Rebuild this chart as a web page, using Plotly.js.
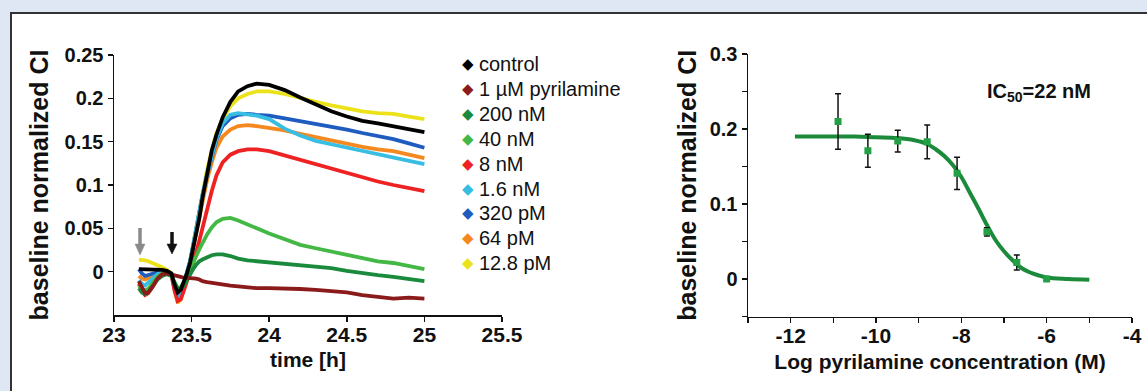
<!DOCTYPE html>
<html>
<head>
<meta charset="utf-8">
<script src="https://cdn.plot.ly/plotly-3.0.1.min.js"></script>
<style>html,body{margin:0;padding:0;background:#e0e7f4;}#chart{width:1147px;height:391px;}</style>
</head>
<body>
<div id="chart"></div>
<script>
// ---------- Left panel: time course ----------
const time = [23.16, 23.18, 23.20, 23.22, 23.25, 23.28, 23.31, 23.34, 23.37, 23.39, 23.41, 23.43, 23.45, 23.47, 23.49, 23.51, 23.53, 23.55, 23.57, 23.60, 23.63, 23.66, 23.70, 23.75, 23.80, 23.86, 23.92, 24.00, 24.10, 24.20, 24.30, 24.40, 24.50, 24.60, 24.70, 24.80, 24.90, 25.00];

const control = [0.003, 0.003, 0.003, 0.003, 0.002, 0.002, 0.002, 0.001, -0.002, -0.015, -0.024, -0.021, -0.012, -0.002, 0.010, 0.026, 0.045, 0.062, 0.085, 0.115, 0.140, 0.158, 0.178, 0.196, 0.208, 0.214, 0.217, 0.2155, 0.2095, 0.201, 0.193, 0.185, 0.179, 0.174, 0.171, 0.168, 0.165, 0.161];
const pyr1uM = [-0.011, -0.019, -0.025, -0.024, -0.017, -0.008, -0.003, -0.002, -0.003, -0.004, -0.005, -0.006, -0.007, -0.007, -0.008, -0.008, -0.008, -0.009, -0.011, -0.012, -0.013, -0.014, -0.015, -0.016, -0.017, -0.018, -0.019, -0.019, -0.019, -0.020, -0.021, -0.022, -0.024, -0.027, -0.029, -0.031, -0.030, -0.031];
const nM200 = [-0.019, -0.024, -0.026, -0.024, -0.016, -0.009, -0.005, -0.003, -0.005, -0.013, -0.019, -0.020, -0.016, -0.010, -0.003, 0.003, 0.008, 0.012, 0.014, 0.017, 0.019, 0.020, 0.020, 0.018, 0.015, 0.013, 0.012, 0.011, 0.009, 0.007, 0.006, 0.004, 0.001, -0.002, -0.004, -0.006, -0.009, -0.011];
const nM40 = [-0.016, -0.020, -0.022, -0.020, -0.013, -0.006, -0.002, -0.001, -0.004, -0.014, -0.020, -0.018, -0.012, -0.005, 0.003, 0.010, 0.018, 0.026, 0.033, 0.043, 0.051, 0.057, 0.061, 0.062, 0.059, 0.055, 0.050, 0.044, 0.037, 0.031, 0.027, 0.023, 0.019, 0.015, 0.012, 0.010, 0.007, 0.003];
const nM8 = [-0.014, -0.022, -0.027, -0.025, -0.017, -0.008, -0.003, -0.001, -0.004, -0.022, -0.034, -0.032, -0.022, -0.010, 0.000, 0.010, 0.022, 0.036, 0.050, 0.072, 0.093, 0.111, 0.126, 0.135, 0.139, 0.141, 0.141, 0.139, 0.134, 0.129, 0.123, 0.118, 0.113, 0.109, 0.104, 0.100, 0.096, 0.093];
const nM1_6 = [-0.010, -0.014, -0.016, -0.013, -0.008, -0.003, 0.000, 0.000, -0.003, -0.020, -0.031, -0.028, -0.016, -0.003, 0.012, 0.030, 0.050, 0.068, 0.088, 0.113, 0.135, 0.154, 0.171, 0.181, 0.183, 0.182, 0.180, 0.176, 0.165, 0.157, 0.151, 0.147, 0.143, 0.139, 0.135, 0.132, 0.128, 0.124];
const pM320 = [0.003, -0.002, -0.005, -0.004, -0.002, 0.000, 0.001, 0.001, -0.002, -0.018, -0.030, -0.026, -0.014, -0.002, 0.012, 0.030, 0.050, 0.068, 0.088, 0.112, 0.133, 0.152, 0.168, 0.177, 0.181, 0.182, 0.181, 0.180, 0.177, 0.174, 0.171, 0.167, 0.164, 0.160, 0.157, 0.153, 0.148, 0.143];
const pM64 = [-0.005, -0.008, -0.009, -0.007, -0.004, -0.002, 0.000, 0.000, -0.003, -0.019, -0.030, -0.027, -0.016, -0.004, 0.010, 0.027, 0.046, 0.064, 0.083, 0.106, 0.126, 0.143, 0.156, 0.164, 0.168, 0.169, 0.168, 0.166, 0.163, 0.159, 0.155, 0.151, 0.148, 0.144, 0.141, 0.139, 0.135, 0.131];
const pM12_8 = [0.014, 0.014, 0.013, 0.012, 0.010, 0.008, 0.005, 0.002, -0.002, -0.020, -0.036, -0.032, -0.020, -0.005, 0.012, 0.032, 0.052, 0.072, 0.092, 0.118, 0.140, 0.160, 0.176, 0.191, 0.200, 0.205, 0.208, 0.208, 0.205, 0.200, 0.196, 0.192, 0.188, 0.185, 0.183, 0.182, 0.179, 0.176];

const seriesNames = ["control", "1 µM pyrilamine", "200 nM", "40 nM", "8 nM", "1.6 nM", "320 pM", "64 pM", "12.8 pM"];
const seriesValues = [control, pyr1uM, nM200, nM40, nM8, nM1_6, pM320, pM64, pM12_8];
const seriesColors = ["#000000", "#8b1a1a", "#1a8a3c", "#44b844", "#ee2222", "#38bde3", "#1f5cbf", "#f5891f", "#ece21a"];

const xTicksLeft = [23, 23.5, 24, 24.5, 25, 25.5];
const xTickTextLeft = ["23", "23.5", "24", "24.5", "25", "25.5"];
const yTicksLeft = [0, 0.05, 0.1, 0.15, 0.2, 0.25];
const yTickTextLeft = ["0", "0.05", "0.1", "0.15", "0.2", "0.25"];

// ---------- Right panel: dose response ----------
const logConc = [-10.89, -10.19, -9.49, -8.80, -8.10, -7.40, -6.70, -6.00];
const meanCI = [0.210, 0.171, 0.184, 0.183, 0.141, 0.063, 0.022, 0.000];
const errCI = [0.037, 0.022, 0.0145, 0.0225, 0.0215, 0.0055, 0.010, 0.002];
const fitX = [-11.9, -11.5, -11, -10.5, -10, -9.5, -9.1, -8.8, -8.6, -8.4, -8.2, -8.0, -7.8, -7.6, -7.4, -7.2, -7.0, -6.8, -6.6, -6.4, -6.2, -6.0, -5.5, -5.0];
const fitY = [0.190, 0.190, 0.190, 0.190, 0.189, 0.188, 0.185, 0.180, 0.173, 0.164, 0.152, 0.136, 0.115, 0.094, 0.072, 0.052, 0.037, 0.025, 0.015, 0.009, 0.005, 0.002, 0.000, -0.001];

const xTicksRight = [-12, -10, -8, -6, -4];
const xTickTextRight = ["-12", "-10", "-8", "-6", "-4"];
const xMinorRight = [-13, -12, -11, -10, -9, -8, -7, -6, -5, -4];
const yTicksRight = [0, 0.1, 0.2, 0.3];
const yTickTextRight = ["0", "0.1", "0.2", "0.3"];
const yMinorRight = [-0.05, 0.05, 0.15, 0.25];

const W = 1147, H = 391;
const px = v => v / W;
const py = v => 1 - v / H;

const traces = [];
for (let i = seriesValues.length - 1; i >= 0; i--) {
  traces.push({
    type: "scatter", mode: "lines", x: time, y: seriesValues[i], name: seriesNames[i],
    line: {color: seriesColors[i], width: 3.8}, xaxis: "x", yaxis: "y", showlegend: false
  });
}
traces.push({
  type: "scatter", mode: "lines", x: fitX, y: fitY, line: {color: "#1b8a3a", width: 4, shape: "spline"},
  xaxis: "x2", yaxis: "y2", showlegend: false
});
traces.push({
  type: "scatter", mode: "markers", x: logConc, y: meanCI,
  marker: {symbol: "square", size: 7, color: "#23a045"},
  error_y: {type: "data", array: errCI, visible: true, color: "#111", thickness: 1.5, width: 3},
  xaxis: "x2", yaxis: "y2", showlegend: false
});

const tickFont = {family: "Liberation Sans", size: 20, color: "#111", weight: "bold"};
const xTickFont = {family: "Liberation Sans", size: 21, color: "#111", weight: "bold"};
const titleFont = {family: "Liberation Sans", size: 21, color: "#111", weight: "bold"};
const yTitleFont = {family: "Liberation Sans", size: 25, color: "#111", weight: "bold"};
const axisCommon = {showgrid: false, zeroline: false, showline: true, linecolor: "#111", linewidth: 1.5,
  ticks: "outside", ticklen: 5, tickwidth: 1.5, tickcolor: "#111", tickfont: tickFont, tickmode: "array", fixedrange: true};
const minorTicks = vals => ({tickmode: "array", tickvals: vals, ticks: "outside", ticklen: 5, tickwidth: 1.5, tickcolor: "#111"});

const annotations = [];
seriesNames.forEach((name, i) => {
  const yy = py(64 + i * 24.9);
  annotations.push({xref: "paper", yref: "paper", x: px(468), y: yy, xanchor: "center", yanchor: "middle",
    text: "◆", showarrow: false, font: {family: "DejaVu Sans", size: 15, color: seriesColors[i]}});
  annotations.push({xref: "paper", yref: "paper", x: px(477), y: yy, xanchor: "left", yanchor: "middle",
    text: name, showarrow: false, font: {family: "Liberation Sans", size: 20, color: "#111"}});
});
annotations.push({xref: "paper", yref: "paper", x: px(985), y: py(92), xanchor: "left", yanchor: "middle",
  text: "IC<sub>50</sub>=22 nM", showarrow: false, font: {family: "Liberation Sans", size: 20, color: "#111", weight: "bold"}});

// injection arrows (drawn as shapes in paper coordinates)
function arrowShapes(cx, top, headTop, tip, color) {
  return [
    {type: "line", xref: "paper", yref: "paper", x0: px(cx), x1: px(cx), y0: py(top), y1: py(headTop + 1),
      line: {color: color, width: 3.5}},
    {type: "path", xref: "paper", yref: "paper",
      path: "M " + px(cx - 5) + " " + py(headTop) + " L " + px(cx + 5) + " " + py(headTop) + " L " + px(cx) + " " + py(tip) + " Z",
      fillcolor: color, line: {color: color, width: 0.5}}
  ];
}

const shapes = [{type: "rect", xref: "paper", yref: "paper", x0: px(11), x1: 1.02, y0: -0.05, y1: py(13),
  fillcolor: "#ffffff", line: {color: "#333", width: 2}, layer: "below"}]
  .concat(arrowShapes(140, 228, 244, 255, "#8a8a8a"))
  .concat(arrowShapes(172, 232, 244, 254, "#111111"));

const layout = {
  width: W, height: H, autosize: false,
  margin: {l: 0, r: 0, t: 0, b: 0},
  paper_bgcolor: "#e0e7f4", plot_bgcolor: "rgba(0,0,0,0)",
  font: {family: "Liberation Sans", color: "#111"},
  showlegend: false,
  shapes: shapes,
  xaxis: Object.assign({}, axisCommon, {domain: [px(114), px(502)], range: [23, 25.5], anchor: "y",
    tickfont: xTickFont, ticklen: 0, minor: minorTicks(xTicksLeft),
    tickvals: xTicksLeft, ticktext: xTickTextLeft, title: {text: "time [h]", font: titleFont, standoff: 7}}),
  yaxis: Object.assign({}, axisCommon, {domain: [py(315), py(55)], range: [-0.05, 0.25], anchor: "x",
    tickvals: yTicksLeft, ticktext: yTickTextLeft, title: {text: "baseline normalized CI", font: yTitleFont, standoff: 9}}),
  xaxis2: Object.assign({}, axisCommon, {domain: [px(748), px(1132)], range: [-13, -4], anchor: "y2",
    tickfont: xTickFont, ticklen: 0, minor: minorTicks(xMinorRight),
    tickvals: xTicksRight, ticktext: xTickTextRight, title: {text: "Log pyrilamine concentration (M)", font: titleFont, standoff: 8}}),
  yaxis2: Object.assign({}, axisCommon, {domain: [py(316.5), py(54)], range: [-0.05, 0.3], anchor: "x2",
    minor: minorTicks(yMinorRight),
    tickvals: yTicksRight, ticktext: yTickTextRight, title: {text: "baseline normalized CI", font: yTitleFont, standoff: 6}}),
  annotations: annotations
};

Plotly.newPlot("chart", traces, layout, {staticPlot: true, displayModeBar: false});
</script>
</body>
</html>
